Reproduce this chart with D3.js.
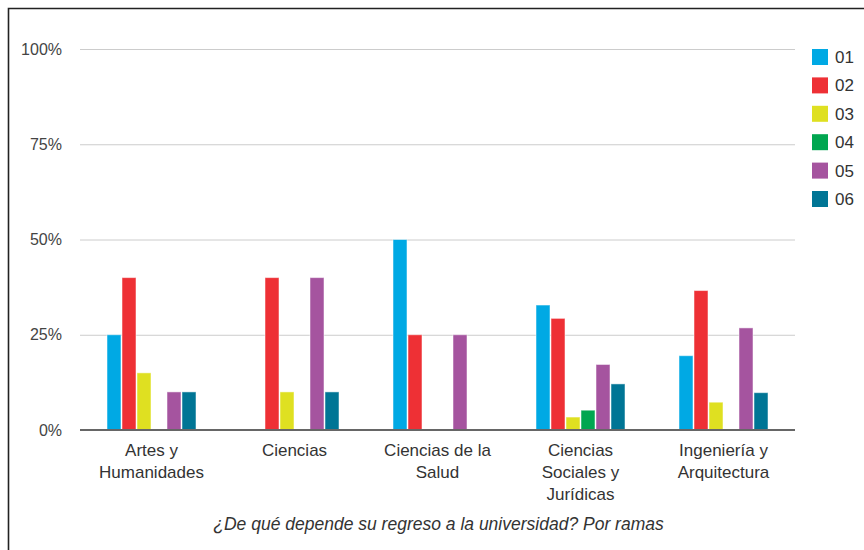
<!DOCTYPE html>
<html>
<head>
<meta charset="utf-8">
<script src="https://cdn.jsdelivr.net/npm/d3@7"></script>
<style>
  html, body { margin: 0; padding: 0; background: #fff; }
  svg { display: block; }
  text { font-family: "Liberation Sans", Arial, sans-serif; }
</style>
</head>
<body>
<svg id="chart" width="864" height="550"></svg>
<script>
const categories = [
  ["Artes y", "Humanidades"],
  ["Ciencias"],
  ["Ciencias de la", "Salud"],
  ["Ciencias", "Sociales y", "Jurídicas"],
  ["Ingeniería y", "Arquitectura"]
];
const seriesNames = ["01", "02", "03", "04", "05", "06"];
const seriesColors = ["#00a9e4", "#ee3035", "#dfe021", "#00a650", "#a5549f", "#007595"];
const s01 = [25, 0, 50, 32.8, 19.5];
const s02 = [40, 40, 25, 29.3, 36.6];
const s03 = [15, 10, 0, 3.4, 7.3];
const s04 = [0, 0, 0, 5.2, 0];
const s05 = [10, 40, 25, 17.2, 26.8];
const s06 = [10, 10, 0, 12.1, 9.8];
const seriesValues = [s01, s02, s03, s04, s05, s06];
const yTicks = [0, 25, 50, 75, 100];
const title = "¿De qué depende su regreso a la universidad? Por ramas";

const svg = d3.select("#chart");
const margin = { left: 80, right: 795, top: 49, bottom: 430 };

// border
svg.append("path")
  .attr("d", "M8.5,551 L8.5,8.5 L865,8.5")
  .attr("fill", "none").attr("stroke", "#222").attr("stroke-width", 1.6);

const catKeys = categories.map(c => c.join(" "));
const x0 = d3.scaleBand().domain(catKeys).range([margin.left, margin.right]).padding(0);
const x1 = d3.scaleBand().domain(seriesNames)
  .range([26.5, x0.bandwidth() - 26.5]).padding(0);
const y = d3.scaleLinear().domain([0, 100]).range([margin.bottom, margin.top]);

// gridlines
svg.append("g").selectAll("line").data(yTicks.filter(t => t > 0)).join("line")
  .attr("x1", margin.left).attr("x2", margin.right)
  .attr("y1", d => y(d) + 0.5).attr("y2", d => y(d) + 0.5)
  .attr("stroke", "#cccccc").attr("stroke-width", 1);

// y axis labels
const yAxis = d3.axisLeft(y).tickValues(yTicks).tickFormat(d => d + "%").tickSize(0).tickPadding(0);
const yg = svg.append("g").attr("transform", `translate(62,0)`).call(yAxis);
yg.select(".domain").remove();
yg.selectAll("text").attr("font-size", 16).attr("fill", "#444")
  .attr("font-family", "'Liberation Sans', Arial, sans-serif");

// bars
const data = [];
catKeys.forEach((c, i) => seriesNames.forEach((s, j) => data.push({ c, s, j, v: seriesValues[j][i] })));
svg.append("g").selectAll("rect").data(data.filter(d => d.v > 0)).join("rect")
  .attr("x", d => x0(d.c) + x1(d.s) + 0.5)
  .attr("width", x1.bandwidth() - 1)
  .attr("y", d => y(d.v))
  .attr("height", d => y(0) - y(d.v))
  .attr("fill", d => seriesColors[d.j])
  .attr("stroke", "#ffffff").attr("stroke-opacity", 0.5).attr("stroke-width", 1);

// baseline
svg.append("line")
  .attr("x1", margin.left).attr("x2", margin.right)
  .attr("y1", y(0)).attr("y2", y(0))
  .attr("stroke", "#666").attr("stroke-width", 2);

// x labels
const xg = svg.append("g");
categories.forEach((lines, i) => {
  const cx = x0(catKeys[i]) + x0.bandwidth() / 2;
  const t = xg.append("text").attr("text-anchor", "middle").attr("font-size", 17).attr("fill", "#333");
  lines.forEach((ln, k) => {
    t.append("tspan").attr("x", cx).attr("y", 456 + k * 22).text(ln);
  });
});

// title
svg.append("text")
  .attr("x", (margin.left + margin.right) / 2 + 1).attr("y", 530)
  .attr("text-anchor", "middle").attr("font-size", 17.5).attr("font-style", "italic")
  .attr("fill", "#333").text(title);

// legend
const lg = svg.append("g");
seriesNames.forEach((s, j) => {
  const cy = 57 + j * 28.4;
  lg.append("rect").attr("x", 812).attr("y", cy - 8).attr("width", 16).attr("height", 16)
    .attr("fill", seriesColors[j]);
  lg.append("text").attr("x", 835).attr("y", cy + 6).attr("font-size", 17).attr("fill", "#333").text(s);
});
</script>
</body>
</html>
